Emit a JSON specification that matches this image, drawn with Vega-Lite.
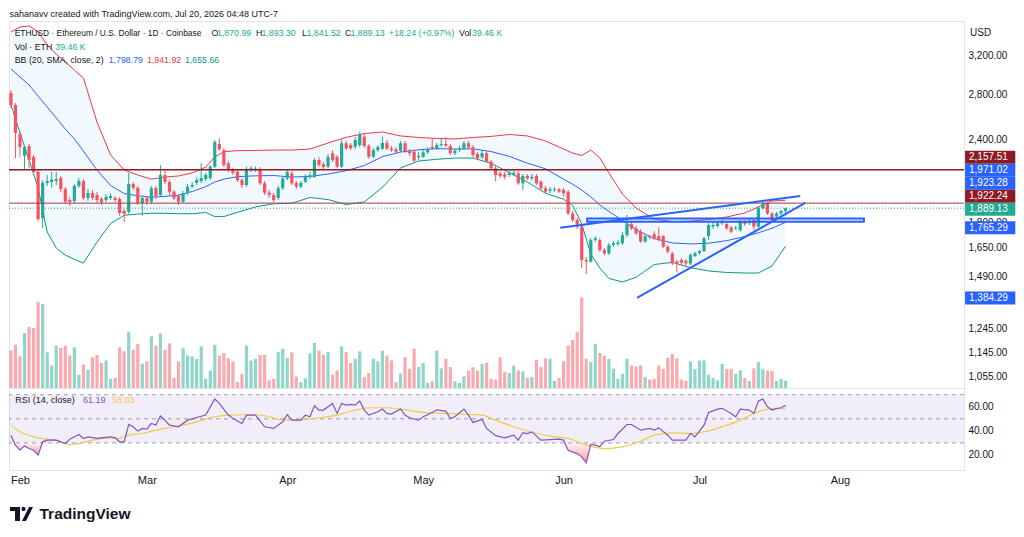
{
"$schema": "https://vega.github.io/schema/vega-lite/v6.json",
"background": "white",
"padding": {"left": 7, "top": 9, "right": 0, "bottom": 0},
"spacing": 0,
"bounds": "flush",
"config": {
  "view": {"stroke": "#e0e3eb", "strokeWidth": 1},
  "scale": {"continuousPadding": 0},
  "font": "Liberation Sans",
  "axis": {"labelFont": "Liberation Sans", "labelFontSize": 10, "labelColor": "#131722", "ticks": false, "domain": false, "grid": false, "titleFont": "Liberation Sans"},
  "text": {"font": "Liberation Sans"}
},
"datasets": {
  "candles": [
{"t":"2026-01-30","o":2815,"h":2844,"l":2672,"c":2700,"v":203},
{"t":"2026-01-31","o":2700,"h":2718,"l":2247,"c":2451,"v":234},
{"t":"2026-02-01","o":2442,"h":2468,"l":2254,"c":2334,"v":171},
{"t":"2026-02-02","o":2265,"h":2345,"l":2156,"c":2337,"v":297},
{"t":"2026-02-03","o":2342,"h":2359,"l":2171,"c":2232,"v":329},
{"t":"2026-02-04","o":2255,"h":2271,"l":2119,"c":2141,"v":324},
{"t":"2026-02-05","o":2141,"h":2156,"l":1806,"c":1819,"v":464},
{"t":"2026-02-06","o":1825,"h":2082,"l":1763,"c":2061,"v":454},
{"t":"2026-02-07","o":2061,"h":2119,"l":2040,"c":2075,"v":193},
{"t":"2026-02-08","o":2068,"h":2141,"l":2026,"c":2086,"v":121},
{"t":"2026-02-09","o":2075,"h":2141,"l":2047,"c":2089,"v":229},
{"t":"2026-02-10","o":2097,"h":2112,"l":1998,"c":2019,"v":216},
{"t":"2026-02-11","o":2019,"h":2033,"l":1916,"c":1932,"v":229},
{"t":"2026-02-12","o":1943,"h":1964,"l":1903,"c":1930,"v":175},
{"t":"2026-02-13","o":1937,"h":2054,"l":1923,"c":2040,"v":220},
{"t":"2026-02-14","o":2040,"h":2097,"l":2026,"c":2075,"v":72},
{"t":"2026-02-15","o":2075,"h":2089,"l":1943,"c":1957,"v":126},
{"t":"2026-02-16","o":1957,"h":2019,"l":1937,"c":1991,"v":99},
{"t":"2026-02-17","o":1991,"h":2012,"l":1943,"c":1957,"v":166},
{"t":"2026-02-18","o":1977,"h":1998,"l":1923,"c":1943,"v":178},
{"t":"2026-02-19","o":1950,"h":1964,"l":1910,"c":1930,"v":135},
{"t":"2026-02-20","o":1943,"h":1984,"l":1930,"c":1964,"v":149},
{"t":"2026-02-21","o":1957,"h":1991,"l":1943,"c":1970,"v":49},
{"t":"2026-02-22","o":1957,"h":1970,"l":1930,"c":1943,"v":54},
{"t":"2026-02-23","o":1950,"h":1964,"l":1839,"c":1858,"v":220},
{"t":"2026-02-24","o":1871,"h":1884,"l":1800,"c":1852,"v":198},
{"t":"2026-02-25","o":1864,"h":2134,"l":1852,"c":2054,"v":304},
{"t":"2026-02-26","o":2054,"h":2068,"l":2012,"c":2026,"v":207},
{"t":"2026-02-27","o":2026,"h":2040,"l":1910,"c":1923,"v":239},
{"t":"2026-02-28","o":1923,"h":1970,"l":1839,"c":1957,"v":131},
{"t":"2026-03-01","o":1957,"h":1970,"l":1910,"c":1930,"v":144},
{"t":"2026-03-02","o":1932,"h":2040,"l":1916,"c":2024,"v":279},
{"t":"2026-03-03","o":2026,"h":2040,"l":1950,"c":1970,"v":229},
{"t":"2026-03-04","o":1977,"h":2193,"l":1964,"c":2119,"v":295},
{"t":"2026-03-05","o":2119,"h":2156,"l":2054,"c":2068,"v":207},
{"t":"2026-03-06","o":2068,"h":2082,"l":1977,"c":2000,"v":241},
{"t":"2026-03-07","o":2000,"h":2012,"l":1943,"c":1955,"v":54},
{"t":"2026-03-08","o":1970,"h":1984,"l":1910,"c":1932,"v":144},
{"t":"2026-03-09","o":1932,"h":2005,"l":1923,"c":1989,"v":216},
{"t":"2026-03-10","o":1991,"h":2054,"l":1977,"c":2035,"v":176},
{"t":"2026-03-11","o":2035,"h":2068,"l":2026,"c":2047,"v":171},
{"t":"2026-03-12","o":2061,"h":2104,"l":2047,"c":2082,"v":157},
{"t":"2026-03-13","o":2075,"h":2208,"l":2061,"c":2097,"v":225},
{"t":"2026-03-14","o":2089,"h":2134,"l":2075,"c":2119,"v":50},
{"t":"2026-03-15","o":2097,"h":2193,"l":2082,"c":2181,"v":94},
{"t":"2026-03-16","o":2181,"h":2392,"l":2171,"c":2378,"v":234},
{"t":"2026-03-17","o":2359,"h":2409,"l":2302,"c":2316,"v":175},
{"t":"2026-03-18","o":2310,"h":2326,"l":2178,"c":2193,"v":189},
{"t":"2026-03-19","o":2206,"h":2224,"l":2141,"c":2156,"v":160},
{"t":"2026-03-20","o":2156,"h":2171,"l":2119,"c":2136,"v":144},
{"t":"2026-03-21","o":2143,"h":2163,"l":2068,"c":2082,"v":32},
{"t":"2026-03-22","o":2082,"h":2097,"l":2026,"c":2047,"v":77},
{"t":"2026-03-23","o":2047,"h":2181,"l":2033,"c":2156,"v":229},
{"t":"2026-03-24","o":2156,"h":2186,"l":2141,"c":2169,"v":148},
{"t":"2026-03-25","o":2156,"h":2181,"l":2141,"c":2166,"v":158},
{"t":"2026-03-26","o":2161,"h":2178,"l":2047,"c":2059,"v":178},
{"t":"2026-03-27","o":2059,"h":2075,"l":1977,"c":1993,"v":178},
{"t":"2026-03-28","o":1993,"h":2012,"l":1957,"c":1977,"v":41},
{"t":"2026-03-29","o":1977,"h":1991,"l":1930,"c":1943,"v":50},
{"t":"2026-03-30","o":1957,"h":2040,"l":1943,"c":2024,"v":194},
{"t":"2026-03-31","o":2024,"h":2112,"l":2012,"c":2094,"v":212},
{"t":"2026-04-01","o":2094,"h":2163,"l":2082,"c":2143,"v":162},
{"t":"2026-04-02","o":2131,"h":2148,"l":2047,"c":2059,"v":193},
{"t":"2026-04-03","o":2061,"h":2075,"l":2019,"c":2035,"v":61},
{"t":"2026-04-04","o":2035,"h":2075,"l":2026,"c":2061,"v":32},
{"t":"2026-04-05","o":2070,"h":2126,"l":2061,"c":2105,"v":52},
{"t":"2026-04-06","o":2104,"h":2141,"l":2089,"c":2119,"v":187},
{"t":"2026-04-07","o":2105,"h":2247,"l":2097,"c":2232,"v":243},
{"t":"2026-04-08","o":2232,"h":2254,"l":2178,"c":2193,"v":203},
{"t":"2026-04-09","o":2200,"h":2216,"l":2163,"c":2178,"v":178},
{"t":"2026-04-10","o":2181,"h":2279,"l":2171,"c":2257,"v":194},
{"t":"2026-04-11","o":2285,"h":2310,"l":2216,"c":2232,"v":72},
{"t":"2026-04-12","o":2257,"h":2271,"l":2171,"c":2181,"v":94},
{"t":"2026-04-13","o":2181,"h":2392,"l":2171,"c":2365,"v":225},
{"t":"2026-04-14","o":2365,"h":2384,"l":2310,"c":2324,"v":193},
{"t":"2026-04-15","o":2351,"h":2367,"l":2310,"c":2324,"v":135},
{"t":"2026-04-16","o":2337,"h":2417,"l":2318,"c":2392,"v":157},
{"t":"2026-04-17","o":2351,"h":2462,"l":2334,"c":2434,"v":198},
{"t":"2026-04-18","o":2420,"h":2442,"l":2326,"c":2343,"v":59},
{"t":"2026-04-19","o":2343,"h":2359,"l":2240,"c":2257,"v":81},
{"t":"2026-04-20","o":2257,"h":2326,"l":2247,"c":2310,"v":157},
{"t":"2026-04-21","o":2310,"h":2351,"l":2294,"c":2334,"v":144},
{"t":"2026-04-22","o":2321,"h":2420,"l":2310,"c":2368,"v":202},
{"t":"2026-04-23","o":2368,"h":2392,"l":2310,"c":2321,"v":175},
{"t":"2026-04-24","o":2321,"h":2343,"l":2294,"c":2310,"v":149},
{"t":"2026-04-25","o":2316,"h":2334,"l":2279,"c":2297,"v":31},
{"t":"2026-04-26","o":2305,"h":2384,"l":2294,"c":2365,"v":77},
{"t":"2026-04-27","o":2365,"h":2384,"l":2287,"c":2302,"v":167},
{"t":"2026-04-28","o":2302,"h":2318,"l":2264,"c":2285,"v":103},
{"t":"2026-04-29","o":2297,"h":2310,"l":2212,"c":2227,"v":212},
{"t":"2026-04-30","o":2253,"h":2294,"l":2232,"c":2263,"v":113},
{"t":"2026-05-01","o":2257,"h":2310,"l":2247,"c":2292,"v":135},
{"t":"2026-05-02","o":2292,"h":2334,"l":2279,"c":2316,"v":27},
{"t":"2026-05-03","o":2337,"h":2409,"l":2310,"c":2324,"v":36},
{"t":"2026-05-04","o":2324,"h":2367,"l":2310,"c":2351,"v":202},
{"t":"2026-05-05","o":2351,"h":2409,"l":2334,"c":2359,"v":106},
{"t":"2026-05-06","o":2359,"h":2417,"l":2334,"c":2345,"v":157},
{"t":"2026-05-07","o":2343,"h":2359,"l":2271,"c":2285,"v":113},
{"t":"2026-05-08","o":2285,"h":2318,"l":2271,"c":2305,"v":36},
{"t":"2026-05-09","o":2310,"h":2343,"l":2294,"c":2321,"v":27},
{"t":"2026-05-10","o":2321,"h":2384,"l":2310,"c":2365,"v":63},
{"t":"2026-05-11","o":2365,"h":2384,"l":2318,"c":2332,"v":94},
{"t":"2026-05-12","o":2332,"h":2351,"l":2255,"c":2271,"v":112},
{"t":"2026-05-13","o":2279,"h":2294,"l":2232,"c":2245,"v":94},
{"t":"2026-05-14","o":2253,"h":2310,"l":2240,"c":2285,"v":130},
{"t":"2026-05-15","o":2285,"h":2302,"l":2208,"c":2220,"v":135},
{"t":"2026-05-16","o":2220,"h":2232,"l":2156,"c":2169,"v":49},
{"t":"2026-05-17","o":2169,"h":2186,"l":2075,"c":2119,"v":45},
{"t":"2026-05-18","o":2131,"h":2148,"l":2097,"c":2112,"v":166},
{"t":"2026-05-19","o":2124,"h":2143,"l":2087,"c":2105,"v":86},
{"t":"2026-05-20","o":2119,"h":2148,"l":2104,"c":2131,"v":81},
{"t":"2026-05-21","o":2124,"h":2156,"l":2112,"c":2136,"v":121},
{"t":"2026-05-22","o":2131,"h":2148,"l":2047,"c":2059,"v":95},
{"t":"2026-05-23","o":2059,"h":2126,"l":2012,"c":2112,"v":90},
{"t":"2026-05-24","o":2112,"h":2126,"l":2082,"c":2094,"v":54},
{"t":"2026-05-25","o":2094,"h":2126,"l":2082,"c":2105,"v":59},
{"t":"2026-05-26","o":2112,"h":2126,"l":2047,"c":2059,"v":153},
{"t":"2026-05-27","o":2070,"h":2082,"l":2012,"c":2024,"v":113},
{"t":"2026-05-28","o":2024,"h":2040,"l":1991,"c":2000,"v":160},
{"t":"2026-05-29","o":2007,"h":2033,"l":1991,"c":2017,"v":157},
{"t":"2026-05-30","o":2012,"h":2033,"l":1998,"c":2017,"v":38},
{"t":"2026-05-31","o":2017,"h":2026,"l":1991,"c":2000,"v":54},
{"t":"2026-06-01","o":2012,"h":2026,"l":1966,"c":1989,"v":144},
{"t":"2026-06-02","o":2000,"h":2012,"l":1845,"c":1855,"v":229},
{"t":"2026-06-03","o":1855,"h":1871,"l":1800,"c":1813,"v":259},
{"t":"2026-06-04","o":1813,"h":1826,"l":1757,"c":1772,"v":301},
{"t":"2026-06-05","o":1772,"h":1788,"l":1536,"c":1579,"v":490},
{"t":"2026-06-06","o":1579,"h":1595,"l":1504,"c":1570,"v":157},
{"t":"2026-06-07","o":1570,"h":1703,"l":1562,"c":1692,"v":140},
{"t":"2026-06-08","o":1692,"h":1715,"l":1680,"c":1702,"v":239},
{"t":"2026-06-09","o":1692,"h":1703,"l":1623,"c":1634,"v":189},
{"t":"2026-06-10","o":1634,"h":1646,"l":1606,"c":1615,"v":175},
{"t":"2026-06-11","o":1615,"h":1675,"l":1606,"c":1663,"v":157},
{"t":"2026-06-12","o":1663,"h":1686,"l":1652,"c":1673,"v":104},
{"t":"2026-06-13","o":1669,"h":1692,"l":1658,"c":1677,"v":49},
{"t":"2026-06-14","o":1673,"h":1739,"l":1663,"c":1721,"v":77},
{"t":"2026-06-15","o":1721,"h":1845,"l":1709,"c":1788,"v":157},
{"t":"2026-06-16","o":1788,"h":1800,"l":1751,"c":1761,"v":121},
{"t":"2026-06-17","o":1761,"h":1776,"l":1721,"c":1731,"v":117},
{"t":"2026-06-18","o":1741,"h":1757,"l":1675,"c":1683,"v":122},
{"t":"2026-06-19","o":1683,"h":1727,"l":1675,"c":1715,"v":59},
{"t":"2026-06-20","o":1715,"h":1721,"l":1698,"c":1708,"v":45},
{"t":"2026-06-21","o":1727,"h":1745,"l":1695,"c":1704,"v":49},
{"t":"2026-06-22","o":1715,"h":1768,"l":1683,"c":1692,"v":121},
{"t":"2026-06-23","o":1715,"h":1721,"l":1646,"c":1653,"v":103},
{"t":"2026-06-24","o":1653,"h":1663,"l":1615,"c":1625,"v":162},
{"t":"2026-06-25","o":1615,"h":1625,"l":1551,"c":1560,"v":184},
{"t":"2026-06-26","o":1570,"h":1579,"l":1512,"c":1560,"v":160},
{"t":"2026-06-27","o":1579,"h":1590,"l":1551,"c":1564,"v":45},
{"t":"2026-06-28","o":1575,"h":1584,"l":1546,"c":1560,"v":40},
{"t":"2026-06-29","o":1560,"h":1615,"l":1551,"c":1606,"v":144},
{"t":"2026-06-30","o":1601,"h":1625,"l":1595,"c":1617,"v":103},
{"t":"2026-07-01","o":1617,"h":1634,"l":1606,"c":1628,"v":148},
{"t":"2026-07-02","o":1628,"h":1709,"l":1623,"c":1702,"v":149},
{"t":"2026-07-03","o":1715,"h":1794,"l":1692,"c":1782,"v":72},
{"t":"2026-07-04","o":1772,"h":1800,"l":1757,"c":1782,"v":54},
{"t":"2026-07-05","o":1776,"h":1806,"l":1764,"c":1793,"v":41},
{"t":"2026-07-06","o":1793,"h":1813,"l":1782,"c":1803,"v":130},
{"t":"2026-07-07","o":1788,"h":1800,"l":1751,"c":1761,"v":103},
{"t":"2026-07-08","o":1767,"h":1776,"l":1731,"c":1741,"v":103},
{"t":"2026-07-09","o":1761,"h":1776,"l":1751,"c":1767,"v":76},
{"t":"2026-07-10","o":1751,"h":1813,"l":1741,"c":1803,"v":95},
{"t":"2026-07-11","o":1803,"h":1813,"l":1776,"c":1788,"v":54},
{"t":"2026-07-12","o":1793,"h":1819,"l":1782,"c":1809,"v":38},
{"t":"2026-07-13","o":1813,"h":1820,"l":1751,"c":1772,"v":106},
{"t":"2026-07-14","o":1772,"h":1900,"l":1766,"c":1888,"v":140},
{"t":"2026-07-15","o":1888,"h":1930,"l":1880,"c":1921,"v":104},
{"t":"2026-07-16","o":1921,"h":1932,"l":1845,"c":1855,"v":94},
{"t":"2026-07-17","o":1855,"h":1864,"l":1800,"c":1813,"v":92},
{"t":"2026-07-18","o":1835,"h":1864,"l":1826,"c":1855,"v":38},
{"t":"2026-07-19","o":1855,"h":1877,"l":1845,"c":1871,"v":49},
{"t":"2026-07-20","o":1870.99,"h":1893.3,"l":1841.52,"c":1889.13,"v":39.46}
  ],
  "bb": [
{"t":"2026-01-30","up":3477,"mid":3059,"lo":2700},
{"t":"2026-02-01","up":3538,"mid":2975,"lo":2451},
{"t":"2026-02-03","up":3550,"mid":2894,"lo":2232},
{"t":"2026-02-05","up":3477,"mid":2785,"lo":2026},
{"t":"2026-02-07","up":3324,"mid":2682,"lo":1739},
{"t":"2026-02-09","up":3221,"mid":2581,"lo":1646},
{"t":"2026-02-11","up":3133,"mid":2485,"lo":1606},
{"t":"2026-02-13","up":3048,"mid":2400,"lo":1582},
{"t":"2026-02-15","up":2965,"mid":2302,"lo":1562},
{"t":"2026-02-18","up":2545,"mid":2156,"lo":1680},
{"t":"2026-02-21","up":2271,"mid":2043,"lo":1791},
{"t":"2026-02-24","up":2156,"mid":1987,"lo":1843},
{"t":"2026-02-27","up":2119,"mid":1972,"lo":1851},
{"t":"2026-03-02","up":2089,"mid":1962,"lo":1856},
{"t":"2026-03-05","up":2104,"mid":1968,"lo":1856},
{"t":"2026-03-08","up":2112,"mid":1976,"lo":1853},
{"t":"2026-03-11","up":2134,"mid":2001,"lo":1853},
{"t":"2026-03-14","up":2178,"mid":2035,"lo":1861},
{"t":"2026-03-16","up":2255,"mid":2068,"lo":1835},
{"t":"2026-03-18","up":2298,"mid":2089,"lo":1835},
{"t":"2026-03-21","up":2305,"mid":2107,"lo":1862},
{"t":"2026-03-25","up":2307,"mid":2113,"lo":1897},
{"t":"2026-03-29","up":2310,"mid":2115,"lo":1918},
{"t":"2026-04-02","up":2310,"mid":2104,"lo":1921},
{"t":"2026-04-06","up":2318,"mid":2108,"lo":1960},
{"t":"2026-04-10","up":2367,"mid":2126,"lo":1946},
{"t":"2026-04-14","up":2414,"mid":2151,"lo":1913},
{"t":"2026-04-18","up":2446,"mid":2189,"lo":1930},
{"t":"2026-04-22","up":2459,"mid":2258,"lo":2030},
{"t":"2026-04-26","up":2426,"mid":2294,"lo":2171},
{"t":"2026-04-30","up":2413,"mid":2312,"lo":2224},
{"t":"2026-05-04","up":2405,"mid":2322,"lo":2237},
{"t":"2026-05-08","up":2401,"mid":2318,"lo":2247},
{"t":"2026-05-12","up":2413,"mid":2320,"lo":2247},
{"t":"2026-05-16","up":2422,"mid":2298,"lo":2206},
{"t":"2026-05-20","up":2438,"mid":2260,"lo":2137},
{"t":"2026-05-24","up":2426,"mid":2208,"lo":2068},
{"t":"2026-05-28","up":2384,"mid":2165,"lo":1989},
{"t":"2026-06-01","up":2318,"mid":2089,"lo":1948},
{"t":"2026-06-03","up":2286,"mid":2052,"lo":1907},
{"t":"2026-06-05","up":2267,"mid":2012,"lo":1788},
{"t":"2026-06-07","up":2310,"mid":1964,"lo":1612},
{"t":"2026-06-09","up":2248,"mid":1910,"lo":1535},
{"t":"2026-06-11","up":2134,"mid":1868,"lo":1481},
{"t":"2026-06-14","up":1984,"mid":1811,"lo":1463},
{"t":"2026-06-17","up":1890,"mid":1754,"lo":1487},
{"t":"2026-06-21","up":1819,"mid":1700,"lo":1554},
{"t":"2026-06-25","up":1803,"mid":1675,"lo":1566},
{"t":"2026-06-29","up":1806,"mid":1669,"lo":1537},
{"t":"2026-07-03","up":1816,"mid":1673,"lo":1520},
{"t":"2026-07-07","up":1832,"mid":1688,"lo":1512},
{"t":"2026-07-11","up":1858,"mid":1712,"lo":1509},
{"t":"2026-07-14","up":1897,"mid":1735,"lo":1509},
{"t":"2026-07-17","up":1936,"mid":1762,"lo":1546},
{"t":"2026-07-20","up":1941.92,"mid":1798.79,"lo":1655.66}
  ],
  "rsi": [
{"t":"2026-01-30","r":36.4},{"t":"2026-01-31","r":28.1},{"t":"2026-02-01","r":23.9},{"t":"2026-02-02","r":27.5},
{"t":"2026-02-03","r":25.3},{"t":"2026-02-04","r":23.9},{"t":"2026-02-05","r":19.8},{"t":"2026-02-06","r":30.9},
{"t":"2026-02-07","r":32.3},{"t":"2026-02-09","r":32.3},{"t":"2026-02-11","r":29.5},{"t":"2026-02-12","r":33.1},
{"t":"2026-02-14","r":37},{"t":"2026-02-15","r":33.7},{"t":"2026-02-16","r":35},{"t":"2026-02-18","r":33.7},
{"t":"2026-02-21","r":35},{"t":"2026-02-22","r":34.2},{"t":"2026-02-23","r":30.9},{"t":"2026-02-24","r":30.9},
{"t":"2026-02-25","r":45.3},{"t":"2026-02-26","r":43.4},{"t":"2026-02-27","r":39.8},{"t":"2026-02-28","r":42},
{"t":"2026-03-01","r":41.4},{"t":"2026-03-02","r":46.1},{"t":"2026-03-03","r":44.8},{"t":"2026-03-04","r":52.3},
{"t":"2026-03-05","r":48.9},{"t":"2026-03-06","r":44.8},{"t":"2026-03-08","r":43.4},{"t":"2026-03-10","r":48.9},
{"t":"2026-03-12","r":51.1},{"t":"2026-03-14","r":53.1},{"t":"2026-03-16","r":66.4},{"t":"2026-03-17","r":62.8},
{"t":"2026-03-19","r":53.1},{"t":"2026-03-20","r":50.3},{"t":"2026-03-22","r":46.1},{"t":"2026-03-23","r":53.1},
{"t":"2026-03-25","r":53.1},{"t":"2026-03-27","r":43.4},{"t":"2026-03-29","r":42},{"t":"2026-03-31","r":47.5},
{"t":"2026-04-01","r":53.6},{"t":"2026-04-02","r":48.9},{"t":"2026-04-04","r":48.9},{"t":"2026-04-05","r":53.1},
{"t":"2026-04-06","r":51.7},{"t":"2026-04-07","r":60.9},{"t":"2026-04-08","r":57.3},{"t":"2026-04-09","r":57.3},
{"t":"2026-04-11","r":62.8},{"t":"2026-04-12","r":54.5},{"t":"2026-04-13","r":62.8},{"t":"2026-04-14","r":61.4},
{"t":"2026-04-15","r":62},{"t":"2026-04-16","r":61.4},{"t":"2026-04-17","r":64.8},{"t":"2026-04-18","r":57.3},
{"t":"2026-04-19","r":53.1},{"t":"2026-04-21","r":55.9},{"t":"2026-04-22","r":58.1},{"t":"2026-04-23","r":54.5},
{"t":"2026-04-24","r":53.9},{"t":"2026-04-26","r":58.1},{"t":"2026-04-27","r":53.1},{"t":"2026-04-28","r":50.9},
{"t":"2026-04-30","r":48.9},{"t":"2026-05-01","r":51.7},{"t":"2026-05-03","r":55.3},{"t":"2026-05-04","r":57.5},
{"t":"2026-05-06","r":56.4},{"t":"2026-05-07","r":50.3},{"t":"2026-05-08","r":51.7},{"t":"2026-05-10","r":58.1},
{"t":"2026-05-11","r":53.1},{"t":"2026-05-12","r":47},{"t":"2026-05-14","r":49.5},{"t":"2026-05-15","r":42},
{"t":"2026-05-17","r":36},{"t":"2026-05-19","r":34.2},{"t":"2026-05-21","r":36.4},{"t":"2026-05-22","r":32.3},
{"t":"2026-05-23","r":38.6},{"t":"2026-05-24","r":37.8},{"t":"2026-05-25","r":39.2},{"t":"2026-05-27","r":32.3},
{"t":"2026-05-29","r":32.8},{"t":"2026-05-31","r":33.1},{"t":"2026-06-01","r":32.3},{"t":"2026-06-02","r":23.9},
{"t":"2026-06-04","r":21.1},{"t":"2026-06-05","r":18.4},{"t":"2026-06-06","r":13.6},{"t":"2026-06-07","r":28.7},
{"t":"2026-06-08","r":28.1},{"t":"2026-06-09","r":26.7},{"t":"2026-06-10","r":31.4},{"t":"2026-06-12","r":32.8},
{"t":"2026-06-13","r":37.8},{"t":"2026-06-15","r":45.3},{"t":"2026-06-16","r":45.3},{"t":"2026-06-18","r":40.6},
{"t":"2026-06-20","r":42},{"t":"2026-06-21","r":40.6},{"t":"2026-06-22","r":42.5},{"t":"2026-06-24","r":36.4},
{"t":"2026-06-25","r":32.3},{"t":"2026-06-27","r":32.3},{"t":"2026-06-28","r":32.3},{"t":"2026-06-29","r":37.8},
{"t":"2026-06-30","r":35},{"t":"2026-07-02","r":44.8},{"t":"2026-07-03","r":55.3},{"t":"2026-07-05","r":58.1},
{"t":"2026-07-06","r":58.7},{"t":"2026-07-08","r":54.5},{"t":"2026-07-09","r":51.7},{"t":"2026-07-10","r":58.1},
{"t":"2026-07-12","r":57.3},{"t":"2026-07-13","r":54.5},{"t":"2026-07-14","r":64.8},{"t":"2026-07-15","r":66.4},
{"t":"2026-07-16","r":60},{"t":"2026-07-17","r":57.3},{"t":"2026-07-18","r":58.5},{"t":"2026-07-19","r":59.2},
{"t":"2026-07-20","r":61.19}
  ],
  "rsima": [
{"t":"2026-01-30","m":44.8},{"t":"2026-02-01","m":39.2},{"t":"2026-02-04","m":35},{"t":"2026-02-07","m":33.1},
{"t":"2026-02-09","m":32.3},{"t":"2026-02-12","m":28.6},{"t":"2026-02-14","m":29.5},{"t":"2026-02-17","m":32.3},
{"t":"2026-02-21","m":34.2},{"t":"2026-02-23","m":33.7},{"t":"2026-02-25","m":36.4},{"t":"2026-02-28","m":37.8},
{"t":"2026-03-03","m":40.6},{"t":"2026-03-07","m":43.4},{"t":"2026-03-12","m":47.5},{"t":"2026-03-16","m":51.7},
{"t":"2026-03-20","m":53.1},{"t":"2026-03-25","m":53.6},{"t":"2026-03-28","m":51.7},{"t":"2026-03-31","m":48.9},
{"t":"2026-04-03","m":48.9},{"t":"2026-04-07","m":50.3},{"t":"2026-04-12","m":53.1},{"t":"2026-04-16","m":57.3},
{"t":"2026-04-19","m":59.2},{"t":"2026-04-23","m":59.2},{"t":"2026-04-26","m":58.1},{"t":"2026-05-01","m":55.3},
{"t":"2026-05-06","m":54.5},{"t":"2026-05-11","m":53.6},{"t":"2026-05-14","m":53.1},{"t":"2026-05-17","m":48.9},
{"t":"2026-05-21","m":43.4},{"t":"2026-05-26","m":37.8},{"t":"2026-05-30","m":35},{"t":"2026-06-02","m":33.7},
{"t":"2026-06-06","m":28.1},{"t":"2026-06-10","m":25.3},{"t":"2026-06-14","m":26.7},{"t":"2026-06-18","m":31.4},
{"t":"2026-06-21","m":36.4},{"t":"2026-06-25","m":38.4},{"t":"2026-06-29","m":37.8},{"t":"2026-07-02","m":39.2},
{"t":"2026-07-06","m":43.4},{"t":"2026-07-10","m":48.9},{"t":"2026-07-13","m":54.5},{"t":"2026-07-16","m":58.1},
{"t":"2026-07-18","m":58.7},{"t":"2026-07-20","m":58.03}
  ],
  "os": [
{"t":"2026-01-30T18:30:00Z","r":30,"z":"a"},{"t":"2026-01-31","r":28.1,"z":"a"},{"t":"2026-02-01","r":23.9,"z":"a"},
{"t":"2026-02-02","r":27.5,"z":"a"},{"t":"2026-02-03","r":25.3,"z":"a"},{"t":"2026-02-04","r":23.9,"z":"a"},
{"t":"2026-02-05","r":19.8,"z":"a"},{"t":"2026-02-05T22:00:00Z","r":30,"z":"a"},
{"t":"2026-06-01T06:30:00Z","r":30,"z":"b"},{"t":"2026-06-02","r":23.9,"z":"b"},{"t":"2026-06-04","r":21.1,"z":"b"},
{"t":"2026-06-05","r":18.4,"z":"b"},{"t":"2026-06-06","r":13.6,"z":"b"},{"t":"2026-06-07","r":28.7,"z":"b"},
{"t":"2026-06-08","r":28.1,"z":"b"},{"t":"2026-06-09","r":26.7,"z":"b"},{"t":"2026-06-09T17:00:00Z","r":30,"z":"b"}
  ],
  "trend": [
{"g":"u","t":"2026-05-31T06:15:00Z","p":1765.29},{"g":"u","t":"2026-07-23T06:00:00Z","p":1971.02},
{"g":"l","t":"2026-06-17T05:00:00Z","p":1384.29},{"g":"l","t":"2026-07-24T08:00:00Z","p":1923.28}
  ],
  "zone": [{"s":"2026-06-06T05:00:00Z","e":"2026-08-06T07:00:00Z","lo":1802,"hi":1822}],
  "tags": [
{"p":2157.51,"k":"level"},{"p":1971.02,"k":"trend"},{"p":1923.28,"k":"trend"},{"p":1922.24,"k":"level"},
{"p":1889.13,"k":"last"},{"p":1765.29,"k":"trend"},{"p":1384.29,"k":"trend"}
  ]
},
"vconcat": [
{
  "width": 955, "height": 367,
  "resolve": {"scale": {"y": "independent"}},
  "layer": [
    {
      "data": {"name": "candles"},
      "mark": {"type": "bar", "width": 3.2, "opacity": 0.5},
      "encoding": {
        "x": {"field": "t", "type": "temporal", "scale": {"type": "utc", "padding": 0, "domain": [{"year":2026,"month":1,"date":29,"hours":13,"minutes":43,"utc":true},{"year":2026,"month":8,"date":28,"hours":9,"minutes":22,"utc":true}]}, "axis": null},
        "y": {"field": "v", "type": "quantitative", "scale": {"domain": [0, 1982], "nice": false}, "axis": null},
        "color": {"condition": {"test": "datum.c >= datum.o", "value": "#22ab94"}, "value": "#f7525f"}
      }
    },
    {
      "layer": [
        {
          "data": {"name": "bb"},
          "mark": {"type": "area", "color": "#2196f3", "opacity": 0.06},
          "encoding": {
            "x": {"field": "t", "type": "temporal", "scale": {"type": "utc", "padding": 0, "domain": [{"year":2026,"month":1,"date":29,"hours":13,"minutes":43,"utc":true},{"year":2026,"month":8,"date":28,"hours":9,"minutes":22,"utc":true}]}, "axis": null},
            "y": {"field": "lo", "type": "quantitative", "scale": {"type": "log", "domain": [1013.5, 3611.6], "nice": false}, "axis": {"orient": "right", "values": [1055, 1145, 1245, 1490, 1650, 1800, 2400, 2800, 3200], "format": ",.2f", "labelPadding": 4, "title": null}},
            "y2": {"field": "up"}
          }
        },
        {
          "data": {"name": "bb"},
          "mark": {"type": "line", "color": "#f23645", "strokeWidth": 1},
          "encoding": {
            "x": {"field": "t", "type": "temporal", "scale": {"type": "utc", "padding": 0, "domain": [{"year":2026,"month":1,"date":29,"hours":13,"minutes":43,"utc":true},{"year":2026,"month":8,"date":28,"hours":9,"minutes":22,"utc":true}]}, "axis": null},
            "y": {"field": "up", "type": "quantitative", "scale": {"type": "log", "domain": [1013.5, 3611.6], "nice": false}, "title": null}
          }
        },
        {
          "data": {"name": "bb"},
          "mark": {"type": "line", "color": "#2962ff", "strokeWidth": 1},
          "encoding": {
            "x": {"field": "t", "type": "temporal", "scale": {"type": "utc", "padding": 0, "domain": [{"year":2026,"month":1,"date":29,"hours":13,"minutes":43,"utc":true},{"year":2026,"month":8,"date":28,"hours":9,"minutes":22,"utc":true}]}, "axis": null},
            "y": {"field": "mid", "type": "quantitative", "scale": {"type": "log", "domain": [1013.5, 3611.6], "nice": false}, "title": null}
          }
        },
        {
          "data": {"name": "bb"},
          "mark": {"type": "line", "color": "#089981", "strokeWidth": 1},
          "encoding": {
            "x": {"field": "t", "type": "temporal", "scale": {"type": "utc", "padding": 0, "domain": [{"year":2026,"month":1,"date":29,"hours":13,"minutes":43,"utc":true},{"year":2026,"month":8,"date":28,"hours":9,"minutes":22,"utc":true}]}, "axis": null},
            "y": {"field": "lo", "type": "quantitative", "scale": {"type": "log", "domain": [1013.5, 3611.6], "nice": false}, "title": null}
          }
        },
        {
          "data": {"name": "candles"},
          "mark": {"type": "rule", "strokeWidth": 1},
          "encoding": {
            "x": {"field": "t", "type": "temporal", "scale": {"type": "utc", "padding": 0, "domain": [{"year":2026,"month":1,"date":29,"hours":13,"minutes":43,"utc":true},{"year":2026,"month":8,"date":28,"hours":9,"minutes":22,"utc":true}]}, "axis": null},
            "y": {"field": "l", "type": "quantitative", "scale": {"type": "log", "domain": [1013.5, 3611.6], "nice": false}, "title": null},
            "y2": {"field": "h"},
            "color": {"condition": {"test": "datum.c >= datum.o", "value": "#22ab94"}, "value": "#f7525f"}
          }
        },
        {
          "data": {"name": "candles"},
          "mark": {"type": "bar", "width": 3.2},
          "encoding": {
            "x": {"field": "t", "type": "temporal", "scale": {"type": "utc", "padding": 0, "domain": [{"year":2026,"month":1,"date":29,"hours":13,"minutes":43,"utc":true},{"year":2026,"month":8,"date":28,"hours":9,"minutes":22,"utc":true}]}, "axis": null},
            "y": {"field": "o", "type": "quantitative", "scale": {"type": "log", "domain": [1013.5, 3611.6], "nice": false}, "title": null},
            "y2": {"field": "c"},
            "color": {"condition": {"test": "datum.c >= datum.o", "value": "#22ab94"}, "value": "#f7525f"}
          }
        },
        {
          "data": {"values": [{}]},
          "mark": {"type": "rule", "color": "#8e1b23", "strokeWidth": 1.5},
          "encoding": {"y": {"datum": 2157.51, "type": "quantitative", "scale": {"type": "log", "domain": [1013.5, 3611.6], "nice": false}}}
        },
        {
          "data": {"values": [{}]},
          "mark": {"type": "rule", "color": "#a23a48", "strokeWidth": 1},
          "encoding": {"y": {"datum": 1922.24, "type": "quantitative", "scale": {"type": "log", "domain": [1013.5, 3611.6], "nice": false}}}
        },
        {
          "data": {"values": [{}]},
          "mark": {"type": "rule", "color": "#22ab94", "strokeWidth": 1, "strokeDash": [1, 2]},
          "encoding": {"y": {"datum": 1889.13, "type": "quantitative", "scale": {"type": "log", "domain": [1013.5, 3611.6], "nice": false}}}
        },
        {
          "data": {"name": "zone"},
          "mark": {"type": "rect", "fill": "#2962ff", "fillOpacity": 0.08, "stroke": "#2962ff", "strokeWidth": 2},
          "encoding": {
            "x": {"field": "s", "type": "temporal", "scale": {"type": "utc", "padding": 0, "domain": [{"year":2026,"month":1,"date":29,"hours":13,"minutes":43,"utc":true},{"year":2026,"month":8,"date":28,"hours":9,"minutes":22,"utc":true}]}, "axis": null},
            "x2": {"field": "e"},
            "y": {"field": "lo", "type": "quantitative", "scale": {"type": "log", "domain": [1013.5, 3611.6], "nice": false}, "title": null},
            "y2": {"field": "hi"}
          }
        },
        {
          "data": {"name": "trend"},
          "mark": {"type": "line", "color": "#2962ff", "strokeWidth": 2},
          "encoding": {
            "x": {"field": "t", "type": "temporal", "scale": {"type": "utc", "padding": 0, "domain": [{"year":2026,"month":1,"date":29,"hours":13,"minutes":43,"utc":true},{"year":2026,"month":8,"date":28,"hours":9,"minutes":22,"utc":true}]}, "axis": null},
            "y": {"field": "p", "type": "quantitative", "scale": {"type": "log", "domain": [1013.5, 3611.6], "nice": false}, "title": null},
            "detail": {"field": "g"}
          }
        },
        {
          "data": {"values": [{}]},
          "encoding": {
            "x": {"datum": {"year":2026,"month":1,"date":29,"hours":13,"minutes":43,"utc":true}, "type": "temporal", "scale": {"type": "utc", "padding": 0, "domain": [{"year":2026,"month":1,"date":29,"hours":13,"minutes":43,"utc":true},{"year":2026,"month":8,"date":28,"hours":9,"minutes":22,"utc":true}]}, "axis": null},
            "y": {"datum": 3700, "type": "quantitative", "scale": {"type": "log", "domain": [1013.5, 3611.6], "nice": false}}
          },
          "layer": [
            {"mark": {"type": "text", "align": "left", "baseline": "middle", "dx": 0.5, "fontSize": 9, "color": "#131722", "text": "sahanavv created with TradingView.com, Jul 20, 2026 04:48 UTC-7"}}
          ]
        },
        {
          "data": {"values": [{}]},
          "encoding": {
            "x": {"datum": {"year":2026,"month":1,"date":29,"hours":13,"minutes":43,"utc":true}, "type": "temporal", "scale": {"type": "utc", "padding": 0, "domain": [{"year":2026,"month":1,"date":29,"hours":13,"minutes":43,"utc":true},{"year":2026,"month":8,"date":28,"hours":9,"minutes":22,"utc":true}]}, "axis": null},
            "y": {"datum": 3465, "type": "quantitative", "scale": {"type": "log", "domain": [1013.5, 3611.6], "nice": false}}
          },
          "layer": [
            {"mark": {"type": "text", "align": "left", "baseline": "middle", "dx": 5.7, "fontSize": 8.4, "color": "#131722", "text": "ETHUSD · Ethereum / U.S. Dollar · 1D · Coinbase"}},
            {"mark": {"type": "text", "align": "left", "baseline": "middle", "dx": 202.5, "fontSize": 8.8, "color": "#131722", "text": "O"}},
            {"mark": {"type": "text", "align": "left", "baseline": "middle", "dx": 208, "fontSize": 8.8, "color": "#22ab94", "text": "1,870.99"}},
            {"mark": {"type": "text", "align": "left", "baseline": "middle", "dx": 247, "fontSize": 8.8, "color": "#131722", "text": "H"}},
            {"mark": {"type": "text", "align": "left", "baseline": "middle", "dx": 252.5, "fontSize": 8.8, "color": "#22ab94", "text": "1,893.30"}},
            {"mark": {"type": "text", "align": "left", "baseline": "middle", "dx": 293, "fontSize": 8.8, "color": "#131722", "text": "L"}},
            {"mark": {"type": "text", "align": "left", "baseline": "middle", "dx": 297.5, "fontSize": 8.8, "color": "#22ab94", "text": "1,841.52"}},
            {"mark": {"type": "text", "align": "left", "baseline": "middle", "dx": 336, "fontSize": 8.8, "color": "#131722", "text": "C"}},
            {"mark": {"type": "text", "align": "left", "baseline": "middle", "dx": 341.5, "fontSize": 8.8, "color": "#22ab94", "text": "1,889.13"}},
            {"mark": {"type": "text", "align": "left", "baseline": "middle", "dx": 380, "fontSize": 8.8, "color": "#22ab94", "text": "+18.24 (+0.97%)"}},
            {"mark": {"type": "text", "align": "left", "baseline": "middle", "dx": 450, "fontSize": 8.8, "color": "#131722", "text": "Vol"}},
            {"mark": {"type": "text", "align": "left", "baseline": "middle", "dx": 463, "fontSize": 8.8, "color": "#22ab94", "text": "39.46 K"}}
          ]
        },
        {
          "data": {"values": [{}]},
          "encoding": {
            "x": {"datum": {"year":2026,"month":8,"date":28,"hours":9,"minutes":22,"utc":true}, "type": "temporal", "scale": {"type": "utc", "padding": 0, "domain": [{"year":2026,"month":1,"date":29,"hours":13,"minutes":43,"utc":true},{"year":2026,"month":8,"date":28,"hours":9,"minutes":22,"utc":true}]}, "axis": null},
            "y": {"datum": 3465, "type": "quantitative", "scale": {"type": "log", "domain": [1013.5, 3611.6], "nice": false}}
          },
          "layer": [
            {"mark": {"type": "text", "align": "left", "baseline": "middle", "dx": 6, "fontSize": 10, "color": "#131722", "text": "USD"}}
          ]
        },
        {
          "data": {"values": [{}]},
          "encoding": {
            "x": {"datum": {"year":2026,"month":1,"date":29,"hours":13,"minutes":43,"utc":true}, "type": "temporal", "scale": {"type": "utc", "padding": 0, "domain": [{"year":2026,"month":1,"date":29,"hours":13,"minutes":43,"utc":true},{"year":2026,"month":8,"date":28,"hours":9,"minutes":22,"utc":true}]}, "axis": null},
            "y": {"datum": 3306, "type": "quantitative", "scale": {"type": "log", "domain": [1013.5, 3611.6], "nice": false}}
          },
          "layer": [
            {"mark": {"type": "text", "align": "left", "baseline": "middle", "dx": 5.7, "fontSize": 8.8, "color": "#131722", "text": "Vol · ETH"}},
            {"mark": {"type": "text", "align": "left", "baseline": "middle", "dx": 46.3, "fontSize": 8.8, "color": "#22ab94", "text": "39.46 K"}}
          ]
        },
        {
          "data": {"values": [{}]},
          "encoding": {
            "x": {"datum": {"year":2026,"month":1,"date":29,"hours":13,"minutes":43,"utc":true}, "type": "temporal", "scale": {"type": "utc", "padding": 0, "domain": [{"year":2026,"month":1,"date":29,"hours":13,"minutes":43,"utc":true},{"year":2026,"month":8,"date":28,"hours":9,"minutes":22,"utc":true}]}, "axis": null},
            "y": {"datum": 3155, "type": "quantitative", "scale": {"type": "log", "domain": [1013.5, 3611.6], "nice": false}}
          },
          "layer": [
            {"mark": {"type": "text", "align": "left", "baseline": "middle", "dx": 5.7, "fontSize": 8.8, "color": "#131722", "text": "BB (20, SMA, close, 2)"}},
            {"mark": {"type": "text", "align": "left", "baseline": "middle", "dx": 99.7, "fontSize": 8.8, "color": "#2962ff", "text": "1,798.79"}},
            {"mark": {"type": "text", "align": "left", "baseline": "middle", "dx": 138, "fontSize": 8.8, "color": "#f23645", "text": "1,941.92"}},
            {"mark": {"type": "text", "align": "left", "baseline": "middle", "dx": 176, "fontSize": 8.8, "color": "#089981", "text": "1,655.66"}}
          ]
        },
        {
          "data": {"name": "tags"},
          "encoding": {
            "x": {"datum": {"year":2026,"month":8,"date":28,"hours":9,"minutes":22,"utc":true}, "type": "temporal", "scale": {"type": "utc", "padding": 0, "domain": [{"year":2026,"month":1,"date":29,"hours":13,"minutes":43,"utc":true},{"year":2026,"month":8,"date":28,"hours":9,"minutes":22,"utc":true}]}, "axis": null},
            "y": {"field": "p", "type": "quantitative", "scale": {"type": "log", "domain": [1013.5, 3611.6], "nice": false}, "title": null}
          },
          "layer": [
            {"transform": [{"filter": "datum.p == 2157.51"}], "layer": [
              {"mark": {"type": "point", "shape": "M0.04,-0.24L1.9,-0.24L1.9,0.24L0.04,0.24Z", "size": 2916, "filled": true, "opacity": 1, "yOffset": -12.6}, "encoding": {"color": {"field": "k", "type": "nominal", "scale": {"domain": ["level", "trend", "last"], "range": ["#8e1b23", "#2962ff", "#22ab94"]}, "legend": null}}},
              {"mark": {"type": "text", "align": "left", "baseline": "middle", "dx": 5, "color": "white", "fontSize": 10, "yOffset": -12.6}, "encoding": {"text": {"field": "p", "format": ",.2f"}}}
            ]},
            {"transform": [{"filter": "datum.p == 1971.02"}], "layer": [
              {"mark": {"type": "point", "shape": "M0.04,-0.24L1.9,-0.24L1.9,0.24L0.04,0.24Z", "size": 2916, "filled": true, "opacity": 1, "yOffset": -25.7}, "encoding": {"color": {"field": "k", "type": "nominal", "scale": {"domain": ["level", "trend", "last"], "range": ["#8e1b23", "#2962ff", "#22ab94"]}, "legend": null}}},
              {"mark": {"type": "text", "align": "left", "baseline": "middle", "dx": 5, "color": "white", "fontSize": 10, "yOffset": -25.7}, "encoding": {"text": {"field": "p", "format": ",.2f"}}}
            ]},
            {"transform": [{"filter": "datum.p == 1923.28"}], "layer": [
              {"mark": {"type": "point", "shape": "M0.04,-0.24L1.9,-0.24L1.9,0.24L0.04,0.24Z", "size": 2916, "filled": true, "opacity": 1, "yOffset": -19.8}, "encoding": {"color": {"field": "k", "type": "nominal", "scale": {"domain": ["level", "trend", "last"], "range": ["#8e1b23", "#2962ff", "#22ab94"]}, "legend": null}}},
              {"mark": {"type": "text", "align": "left", "baseline": "middle", "dx": 5, "color": "white", "fontSize": 10, "yOffset": -19.8}, "encoding": {"text": {"field": "p", "format": ",.2f"}}}
            ]},
            {"transform": [{"filter": "datum.p == 1922.24"}], "layer": [
              {"mark": {"type": "point", "shape": "M0.04,-0.24L1.9,-0.24L1.9,0.24L0.04,0.24Z", "size": 2916, "filled": true, "opacity": 1, "yOffset": -6.9}, "encoding": {"color": {"field": "k", "type": "nominal", "scale": {"domain": ["level", "trend", "last"], "range": ["#8e1b23", "#2962ff", "#22ab94"]}, "legend": null}}},
              {"mark": {"type": "text", "align": "left", "baseline": "middle", "dx": 5, "color": "white", "fontSize": 10, "yOffset": -6.9}, "encoding": {"text": {"field": "p", "format": ",.2f"}}}
            ]},
            {"transform": [{"filter": "datum.p == 1889.13"}], "layer": [
              {"mark": {"type": "point", "shape": "M0.04,-0.24L1.9,-0.24L1.9,0.24L0.04,0.24Z", "size": 2916, "filled": true, "opacity": 1, "yOffset": 1}, "encoding": {"color": {"field": "k", "type": "nominal", "scale": {"domain": ["level", "trend", "last"], "range": ["#8e1b23", "#2962ff", "#22ab94"]}, "legend": null}}},
              {"mark": {"type": "text", "align": "left", "baseline": "middle", "dx": 5, "color": "white", "fontSize": 10, "yOffset": 1}, "encoding": {"text": {"field": "p", "format": ",.2f"}}}
            ]},
            {"transform": [{"filter": "datum.p < 1800"}], "layer": [
              {"mark": {"type": "point", "shape": "M0.04,-0.24L1.9,-0.24L1.9,0.24L0.04,0.24Z", "size": 2916, "filled": true, "opacity": 1}, "encoding": {"color": {"field": "k", "type": "nominal", "scale": {"domain": ["level", "trend", "last"], "range": ["#8e1b23", "#2962ff", "#22ab94"]}, "legend": null}}},
              {"mark": {"type": "text", "align": "left", "baseline": "middle", "dx": 5, "color": "white", "fontSize": 10}, "encoding": {"text": {"field": "p", "format": ",.2f"}}}
            ]}
          ]
        }
      ]
    }
  ]
},
{
  "width": 955, "height": 82,
  "layer": [
    {
      "data": {"values": [{}]},
      "mark": {"type": "rect", "color": "#7e57c2", "opacity": 0.1},
      "encoding": {
        "y": {"datum": 30, "type": "quantitative", "scale": {"domain": [7.5, 75.6], "nice": false, "zero": false}, "axis": {"orient": "right", "values": [20, 40, 60], "format": ".2f", "labelPadding": 4, "title": null}},
        "y2": {"datum": 70}
      }
    },
    {
      "data": {"values": [{"r": 70}, {"r": 50}, {"r": 30}]},
      "mark": {"type": "rule", "color": "#787b86", "strokeDash": [4, 4], "strokeWidth": 1, "opacity": 0.7},
      "encoding": {
        "y": {"field": "r", "type": "quantitative", "scale": {"domain": [7.5, 75.6], "nice": false, "zero": false}, "title": null}
      }
    },
    {
      "data": {"name": "os"},
      "mark": {"type": "area", "color": {"gradient": "linear", "x1": 0, "y1": 0, "x2": 0, "y2": 1, "stops": [{"offset": 0, "color": "rgba(242,54,69,0.05)"}, {"offset": 1, "color": "rgba(242,54,69,0.5)"}]}},
      "encoding": {
        "x": {"field": "t", "type": "temporal", "scale": {"type": "utc", "padding": 0, "domain": [{"year":2026,"month":1,"date":29,"hours":13,"minutes":43,"utc":true},{"year":2026,"month":8,"date":28,"hours":9,"minutes":22,"utc":true}]}, "axis": {"values": [{"year":2026,"month":2,"date":1,"utc":true},{"year":2026,"month":3,"date":1,"utc":true},{"year":2026,"month":4,"date":1,"utc":true},{"year":2026,"month":5,"date":1,"utc":true},{"year":2026,"month":6,"date":1,"utc":true},{"year":2026,"month":7,"date":1,"utc":true},{"year":2026,"month":8,"date":1,"utc":true}], "labelExpr": "utcFormat(datum.value, '%b')", "labelFontSize": 11, "labelPadding": 4.5, "labelFlush": false, "title": "TradingView", "titleFontSize": 15.5, "titleFontWeight": "bold", "titleColor": "#131722", "titleAnchor": "start", "titleAlign": "left", "titleX": 30, "titleY": 36}},
        "y": {"field": "r", "type": "quantitative", "scale": {"domain": [7.5, 75.6], "nice": false, "zero": false}, "title": null},
        "y2": {"datum": 30},
        "detail": {"field": "z"}
      }
    },
    {
      "data": {"name": "rsima"},
      "mark": {"type": "line", "color": "#f2c94c", "strokeWidth": 1.2, "interpolate": "monotone"},
      "encoding": {
        "x": {"field": "t", "type": "temporal", "scale": {"type": "utc", "padding": 0, "domain": [{"year":2026,"month":1,"date":29,"hours":13,"minutes":43,"utc":true},{"year":2026,"month":8,"date":28,"hours":9,"minutes":22,"utc":true}]}, "axis": {"values": [{"year":2026,"month":2,"date":1,"utc":true},{"year":2026,"month":3,"date":1,"utc":true},{"year":2026,"month":4,"date":1,"utc":true},{"year":2026,"month":5,"date":1,"utc":true},{"year":2026,"month":6,"date":1,"utc":true},{"year":2026,"month":7,"date":1,"utc":true},{"year":2026,"month":8,"date":1,"utc":true}], "labelExpr": "utcFormat(datum.value, '%b')", "labelFontSize": 11, "labelPadding": 4.5, "labelFlush": false, "title": "TradingView", "titleFontSize": 15.5, "titleFontWeight": "bold", "titleColor": "#131722", "titleAnchor": "start", "titleAlign": "left", "titleX": 30, "titleY": 36}},
        "y": {"field": "m", "type": "quantitative", "scale": {"domain": [7.5, 75.6], "nice": false, "zero": false}, "title": null}
      }
    },
    {
      "data": {"name": "rsi"},
      "mark": {"type": "line", "color": "#7e57c2", "strokeWidth": 1.2},
      "encoding": {
        "x": {"field": "t", "type": "temporal", "scale": {"type": "utc", "padding": 0, "domain": [{"year":2026,"month":1,"date":29,"hours":13,"minutes":43,"utc":true},{"year":2026,"month":8,"date":28,"hours":9,"minutes":22,"utc":true}]}, "axis": {"values": [{"year":2026,"month":2,"date":1,"utc":true},{"year":2026,"month":3,"date":1,"utc":true},{"year":2026,"month":4,"date":1,"utc":true},{"year":2026,"month":5,"date":1,"utc":true},{"year":2026,"month":6,"date":1,"utc":true},{"year":2026,"month":7,"date":1,"utc":true},{"year":2026,"month":8,"date":1,"utc":true}], "labelExpr": "utcFormat(datum.value, '%b')", "labelFontSize": 11, "labelPadding": 4.5, "labelFlush": false, "title": "TradingView", "titleFontSize": 15.5, "titleFontWeight": "bold", "titleColor": "#131722", "titleAnchor": "start", "titleAlign": "left", "titleX": 30, "titleY": 36}},
        "y": {"field": "r", "type": "quantitative", "scale": {"domain": [7.5, 75.6], "nice": false, "zero": false}, "title": null}
      }
    },
    {
      "data": {"values": [{}]},
      "encoding": {
        "x": {"datum": {"year":2026,"month":1,"date":29,"hours":13,"minutes":43,"utc":true}, "type": "temporal", "scale": {"type": "utc", "padding": 0, "domain": [{"year":2026,"month":1,"date":29,"hours":13,"minutes":43,"utc":true},{"year":2026,"month":8,"date":28,"hours":9,"minutes":22,"utc":true}]}, "axis": {"values": [{"year":2026,"month":2,"date":1,"utc":true},{"year":2026,"month":3,"date":1,"utc":true},{"year":2026,"month":4,"date":1,"utc":true},{"year":2026,"month":5,"date":1,"utc":true},{"year":2026,"month":6,"date":1,"utc":true},{"year":2026,"month":7,"date":1,"utc":true},{"year":2026,"month":8,"date":1,"utc":true}], "labelExpr": "utcFormat(datum.value, '%b')", "labelFontSize": 11, "labelPadding": 4.5, "labelFlush": false, "title": "TradingView", "titleFontSize": 15.5, "titleFontWeight": "bold", "titleColor": "#131722", "titleAnchor": "start", "titleAlign": "left", "titleX": 30, "titleY": 36}},
        "y": {"datum": 65.6, "type": "quantitative", "scale": {"domain": [7.5, 75.6], "nice": false, "zero": false}}
      },
      "layer": [
        {"mark": {"type": "text", "align": "left", "baseline": "middle", "dx": 6.3, "fontSize": 9, "color": "#131722", "text": "RSI (14, close)"}},
        {"mark": {"type": "text", "align": "left", "baseline": "middle", "dx": 74, "fontSize": 9, "color": "#7e57c2", "text": "61.19"}},
        {"mark": {"type": "text", "align": "left", "baseline": "middle", "dx": 103, "fontSize": 9, "color": "#f2c94c", "text": "58.03"}}
      ]
    },
    {
      "data": {"values": [{}]},
      "mark": {"type": "point", "shape": "M-0.96,-0.58L-0.125,-0.58L-0.125,0.58L-0.54,0.58L-0.54,-0.25L-0.96,-0.25Z M0.0,-0.42A0.17,0.17 0 1,0 0.34,-0.42A0.17,0.17 0 1,0 0.0,-0.42Z M0.04,0.58L0.375,0.58L0.96,-0.58L0.625,-0.58Z", "size": 576, "filled": true, "opacity": 1, "color": "#131722", "xOffset": 12.5},
      "encoding": {
        "x": {"datum": {"year":2026,"month":1,"date":29,"hours":13,"minutes":43,"utc":true}, "type": "temporal", "scale": {"type": "utc", "padding": 0, "domain": [{"year":2026,"month":1,"date":29,"hours":13,"minutes":43,"utc":true},{"year":2026,"month":8,"date":28,"hours":9,"minutes":22,"utc":true}]}, "axis": {"values": [{"year":2026,"month":2,"date":1,"utc":true},{"year":2026,"month":3,"date":1,"utc":true},{"year":2026,"month":4,"date":1,"utc":true},{"year":2026,"month":5,"date":1,"utc":true},{"year":2026,"month":6,"date":1,"utc":true},{"year":2026,"month":7,"date":1,"utc":true},{"year":2026,"month":8,"date":1,"utc":true}], "labelExpr": "utcFormat(datum.value, '%b')", "labelFontSize": 11, "labelPadding": 4.5, "labelFlush": false, "title": "TradingView", "titleFontSize": 15.5, "titleFontWeight": "bold", "titleColor": "#131722", "titleAnchor": "start", "titleAlign": "left", "titleX": 30, "titleY": 36}},
        "y": {"datum": -29, "type": "quantitative", "scale": {"domain": [7.5, 75.6], "nice": false, "zero": false}}
      }
    }
  ]
}
]
}
